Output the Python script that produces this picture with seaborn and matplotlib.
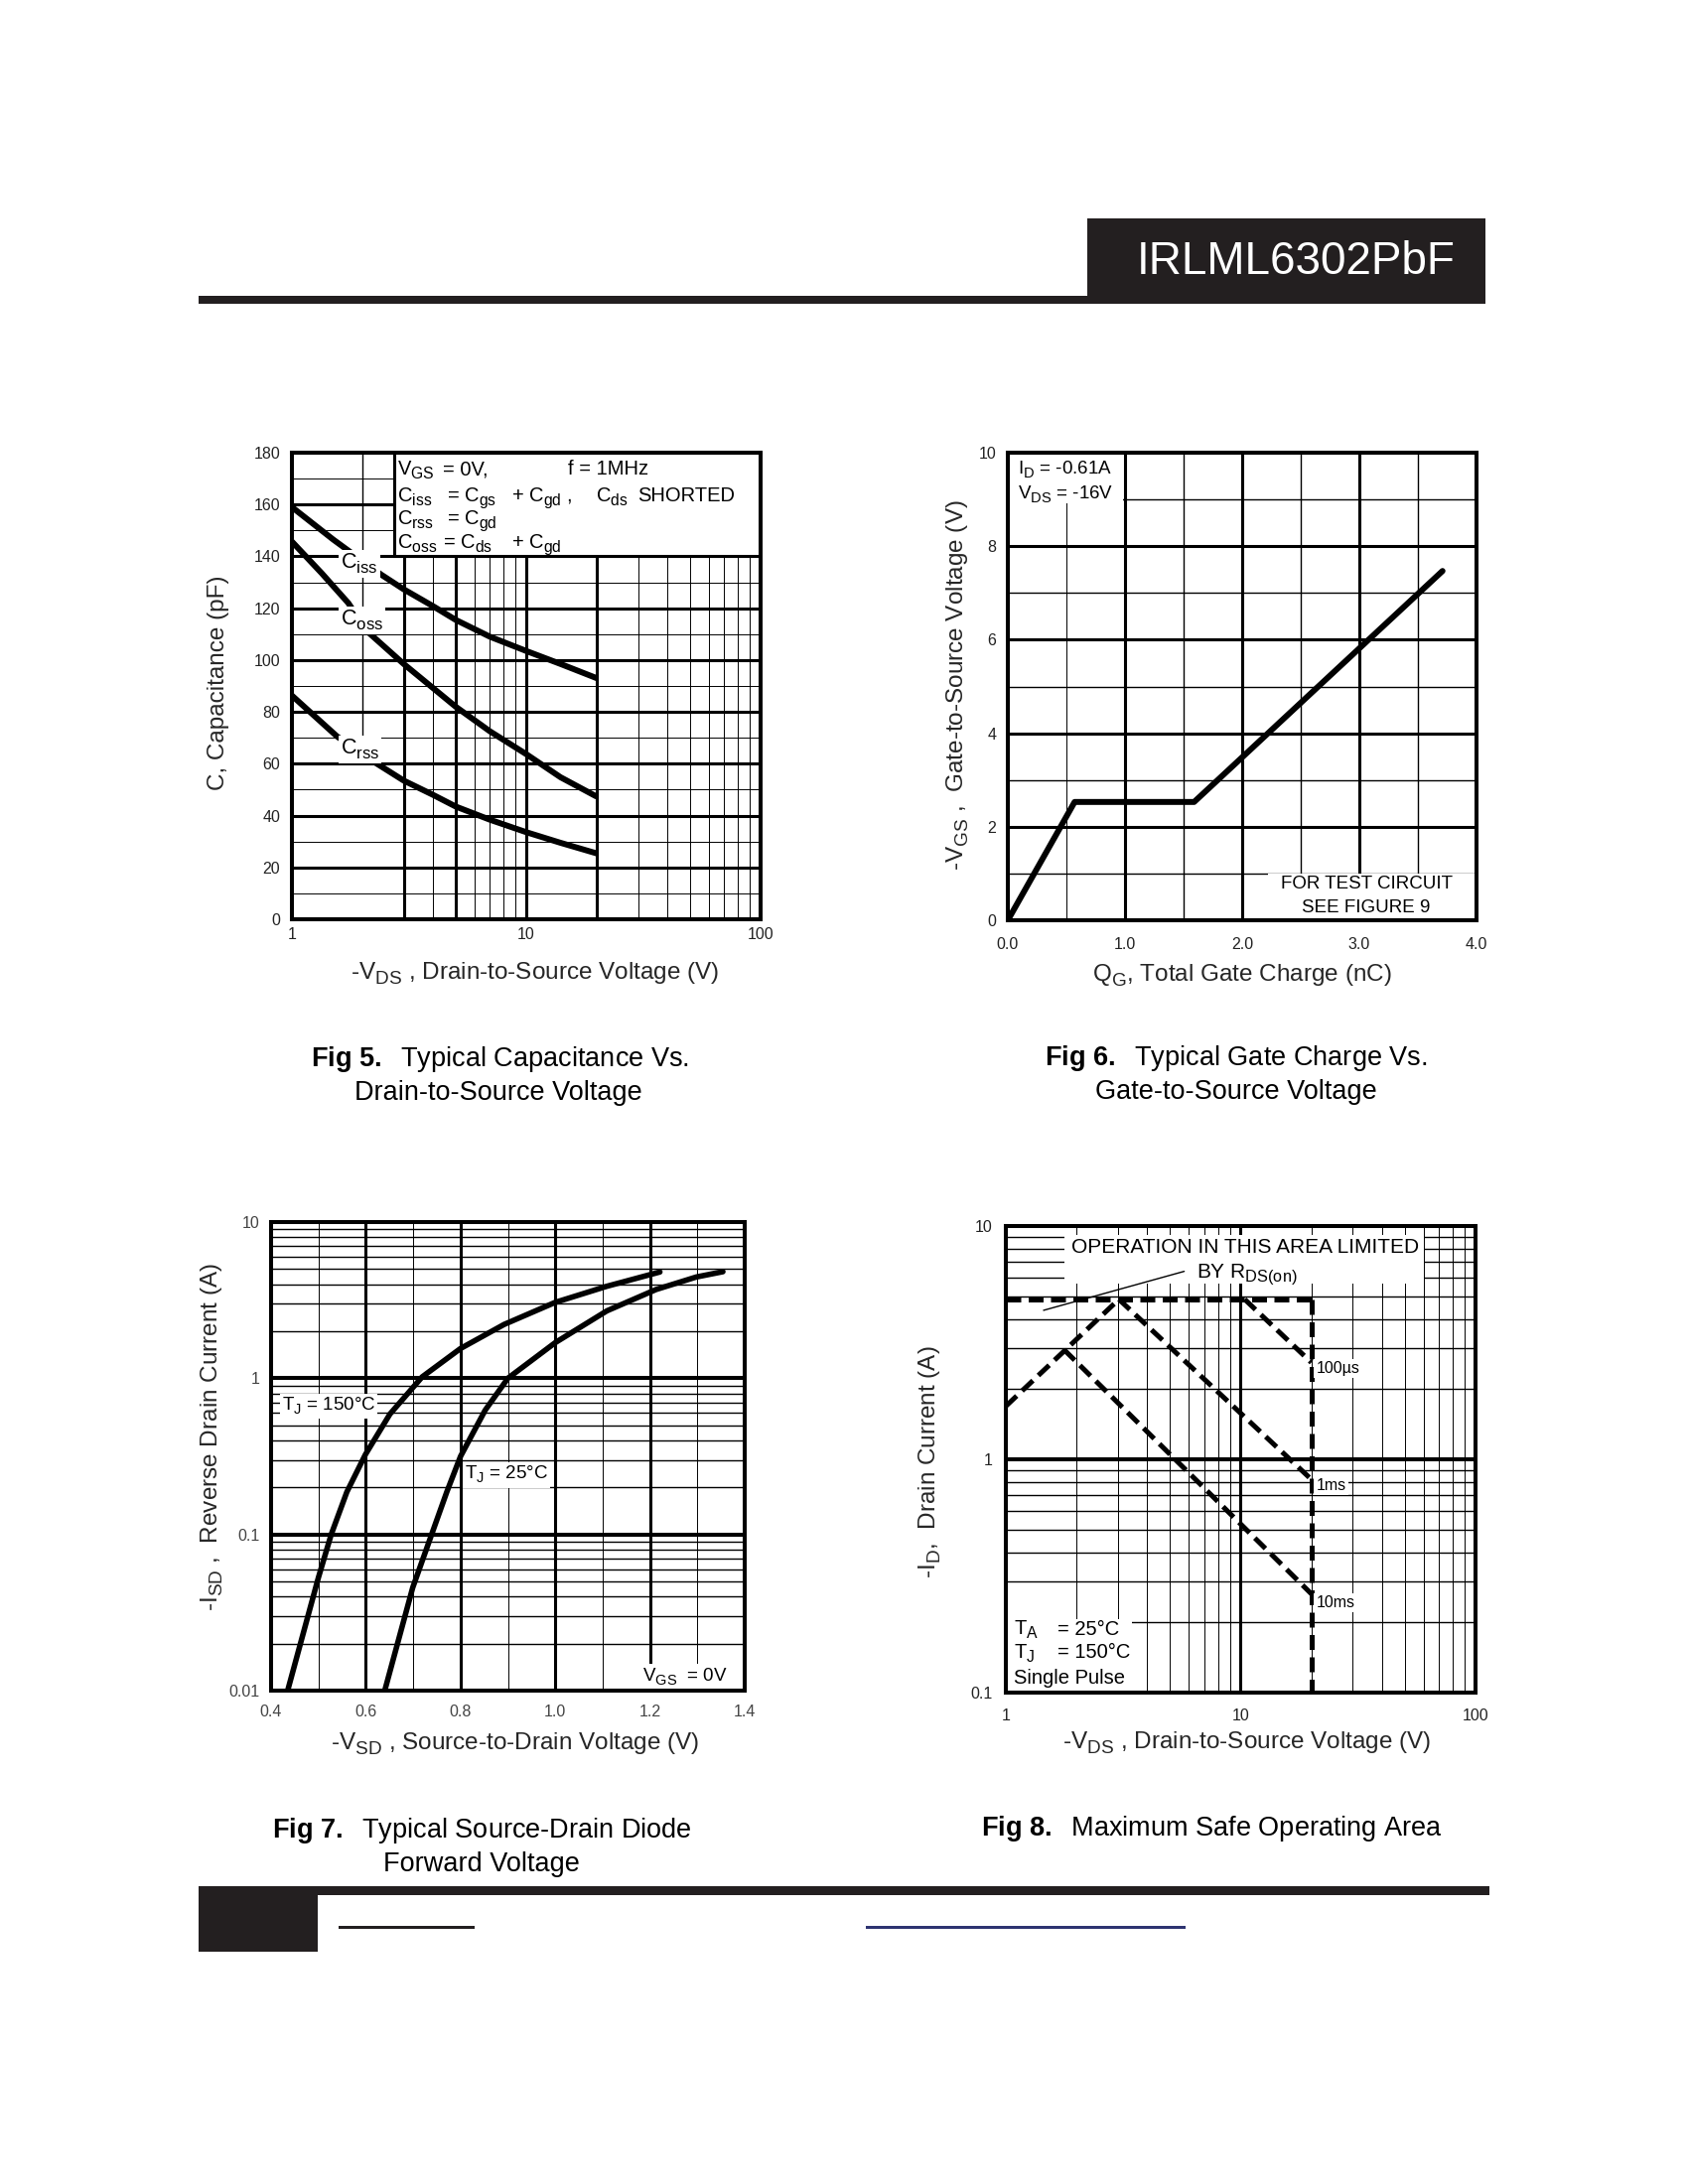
import matplotlib
matplotlib.use("Agg")
import matplotlib.pyplot as plt
from matplotlib.patches import Rectangle
from matplotlib.ticker import NullLocator, NullFormatter
import pandas as pd
import seaborn as sns

# ---------------- data ----------------
# Fig 5 : capacitance vs -VDS
ciss_vds = [1, 1.5, 2.4, 3, 4, 5, 7, 10, 14, 20]
ciss_pf = [159, 146.5, 133, 127.3, 120.8, 115.5, 109, 103.5, 98.5, 93]
coss_vds = [1, 1.34, 1.74, 2.1, 3, 5, 7, 10, 14, 20]
coss_pf = [145.7, 133.5, 122, 111, 98.5, 82, 72.5, 63.7, 54.8, 47.3]
crss_vds = [1, 1.56, 2.26, 3, 4, 5, 7, 10, 14, 20]
crss_pf = [86.3, 70.5, 60.5, 53.5, 48.0, 43.5, 38.4, 33.6, 29.5, 25.4]
fig5_xticks = [1, 10, 100]
fig5_yticks = [0, 20, 40, 60, 80, 100, 120, 140, 160, 180]

# Fig 6 : gate charge
gate_qg = [0.0, 0.57, 1.59, 3.71]
gate_vgs = [0.0, 2.53, 2.53, 7.47]
fig6_xticks = [0.0, 1.0, 2.0, 3.0, 4.0]
fig6_yticks = [0, 2, 4, 6, 8, 10]

# Fig 7 : source-drain diode forward voltage
vsd_150 = [0.435, 0.500, 0.527, 0.560, 0.599, 0.651, 0.719, 0.800, 0.892, 1.000, 1.109, 1.221]
isd_150 = [0.010, 0.053, 0.100, 0.187, 0.324, 0.590, 1.02, 1.55, 2.21, 3.06, 3.88, 4.79]
vsd_25 = [0.640, 0.699, 0.739, 0.771, 0.800, 0.852, 0.900, 1.000, 1.109, 1.213, 1.298, 1.354]
isd_25 = [0.010, 0.0456, 0.100, 0.187, 0.316, 0.624, 1.00, 1.69, 2.70, 3.70, 4.45, 4.81]
fig7_xticks = [0.4, 0.6, 0.8, 1.0, 1.2, 1.4]
fig7_yticks = [0.01, 0.1, 1, 10]

# Fig 8 : safe operating area
soa_rds_vds = [1.0, 3.03]
soa_rds_id = [1.69, 4.85]
soa_top_vds = [1.0, 20.0]
soa_top_id = [4.85, 4.85]
soa_100us_vds = [10.4, 20.0]
soa_100us_id = [4.85, 2.6]
soa_1ms_vds = [3.03, 20.0]
soa_1ms_id = [4.85, 0.82]
soa_10ms_vds = [1.77, 20.0]
soa_10ms_id = [2.95, 0.265]
soa_vmax_vds = [20.0, 20.0]
soa_vmax_id = [4.85, 0.1]
fig8_xticks = [1, 10, 100]
fig8_yticks = [0.1, 1, 10]

# ---------------- style ----------------
sns.set_theme(style="white")
plt.rcParams["font.family"] = ["Liberation Sans", "DejaVu Sans"]
plt.rcParams["mathtext.fontset"] = "custom"
plt.rcParams["mathtext.rm"] = "Liberation Sans"
plt.rcParams["mathtext.it"] = "Liberation Sans:italic"
plt.rcParams["mathtext.bf"] = "Liberation Sans:bold"
plt.rcParams["mathtext.default"] = "regular"
plt.rcParams["text.color"] = "black"

# larger, lower subscripts as in the datasheet typography
try:
    import matplotlib._mathtext as _mt
    _mt.SHRINK_FACTOR = 0.78
    _mt.FontConstantsBase.subdrop = 0.42
    _mt.FontConstantsBase.sub1 = 0.42
except Exception:
    pass

W, H = 1700, 2200
fig = plt.figure(figsize=(17, 22), dpi=100)
fig.patch.set_facecolor("white")

INK = "#231f20"
CURVE_LW = 4.3
SPINE_LW = 2.9
THICK = 2.2
MED = 1.0
THIN = 0.7
AXLAB = 17.5
TICK = 11.5


def px_axes(l, t, r, b):
    return fig.add_axes([l / W, 1 - b / H, (r - l) / W, (b - t) / H])


def frect(x0, y0, x1, y1, color=INK):
    fig.add_artist(Rectangle((x0 / W, 1 - y1 / H), (x1 - x0) / W, (y1 - y0) / H,
                             transform=fig.transFigure, facecolor=color,
                             edgecolor="none"))


def style_axes(ax, xpad, ypad, tick_color="#222222"):
    ax.set_facecolor("white")
    for s in ax.spines.values():
        s.set_visible(True)
        s.set_linewidth(SPINE_LW)
        s.set_color("black")
        s.set_zorder(6)
    ax.tick_params(axis="both", which="both", length=0, labelsize=TICK,
                   colors=tick_color)
    ax.tick_params(axis="x", pad=xpad)
    ax.tick_params(axis="y", pad=ypad)
    ax.xaxis.set_minor_locator(NullLocator())
    ax.yaxis.set_minor_locator(NullLocator())
    ax.xaxis.set_minor_formatter(NullFormatter())
    ax.yaxis.set_minor_formatter(NullFormatter())
    ax.grid(False)


def vlines(ax, xs, lw, ymin=0, ymax=1):
    for x in xs:
        ax.axvline(x, ymin=ymin, ymax=ymax, color="black", lw=lw, zorder=1,
                   solid_capstyle="butt")


def hlines(ax, ys, lw, xmin=0, xmax=1):
    for y in ys:
        ax.axhline(y, xmin=xmin, xmax=xmax, color="black", lw=lw, zorder=1,
                   solid_capstyle="butt")


def set_labels(ax, xlabel, ylabel, xcoord, ycoord):
    ax.set_xlabel(xlabel, fontsize=AXLAB)
    ax.set_ylabel(ylabel, fontsize=AXLAB)
    ax.xaxis.set_label_coords(*xcoord)
    ax.yaxis.set_label_coords(*ycoord)
    ax.xaxis.label.set_va("baseline")
    ax.yaxis.label.set_va("baseline")


WHITE_BOX = dict(facecolor="white", edgecolor="none", pad=1.5)

# ================= Fig 5 =================
ax5 = px_axes(294, 456, 766, 926)
df5 = pd.concat([
    pd.DataFrame({"vds": ciss_vds, "cap": ciss_pf, "curve": "Ciss"}),
    pd.DataFrame({"vds": coss_vds, "cap": coss_pf, "curve": "Coss"}),
    pd.DataFrame({"vds": crss_vds, "cap": crss_pf, "curve": "Crss"}),
], ignore_index=True)
sns.lineplot(data=df5, x="vds", y="cap", units="curve", estimator=None,
             sort=False, color="black", lw=CURVE_LW, ax=ax5, legend=False,
             zorder=3, solid_capstyle="butt", solid_joinstyle="round")
ax5.set_xscale("log")
ax5.set_xlim(1, 100)
ax5.set_ylim(0, 180)
style_axes(ax5, xpad=6, ypad=8.5)
ax5.set_xticks(fig5_xticks, [str(v) for v in fig5_xticks])
ax5.set_yticks(fig5_yticks, [str(v) for v in fig5_yticks])
ax5.xaxis.set_minor_locator(NullLocator())
hlines(ax5, [20, 40, 60, 80, 100, 120, 140, 160], THICK)
hlines(ax5, [10, 30, 50, 70, 90, 110, 130, 150, 170], THIN)
vlines(ax5, [3, 5, 10, 20], THICK)
vlines(ax5, [4, 6, 7, 8, 9, 30, 40, 50, 60, 70, 80, 90], THIN)
vlines(ax5, [2], MED, ymin=66 / 180)
ax5.add_patch(Rectangle((2.73, 140), 100 - 2.73, 40, facecolor="white",
                        edgecolor="black", lw=THICK, zorder=2))
leg_fs = 14.5
legend_pieces = [
    (0.2246, 0.953, r"$V_{GS}$"), (0.322, 0.953, "= 0V,"), (0.589, 0.953, "f = 1MHz"),
    (0.2246, 0.896, r"$C_{iss}$"), (0.3305, 0.896, r"= $C_{gs}$"),
    (0.468, 0.896, r"+ $C_{gd}$ ,"), (0.648, 0.896, r"$C_{ds}$"),
    (0.737, 0.896, "SHORTED"),
    (0.2246, 0.847, r"$C_{rss}$"), (0.3305, 0.847, r"= $C_{gd}$"),
    (0.2246, 0.796, r"$C_{oss}$"), (0.322, 0.796, r"= $C_{ds}$"),
    (0.468, 0.796, r"+ $C_{gd}$"),
]
for x, y, s in legend_pieces:
    ax5.text(x, y, s, transform=ax5.transAxes, fontsize=leg_fs,
             va="baseline", zorder=4)
for lab, y in [(r"C$_{iss}$", 135.2), (r"C$_{oss}$", 113.4), (r"C$_{rss}$", 63.6)]:
    ax5.text(1.61, y, lab, fontsize=15.5, va="baseline", zorder=4, bbox=WHITE_BOX)
set_labels(ax5, r"-$V_{DS}$ , Drain-to-Source Voltage (V)",
           "C, Capacitance (pF)", (0.519, -0.1298), (-0.144, 0.507))

# ================= Fig 6 =================
ax6 = px_axes(1015, 456, 1487, 927)
df6 = pd.DataFrame({"qg": gate_qg, "vgs": gate_vgs})
sns.lineplot(data=df6, x="qg", y="vgs", estimator=None, sort=False,
             color="black", lw=CURVE_LW, ax=ax6, legend=False, zorder=3)
ax6.set_xlim(0, 4)
ax6.set_ylim(0, 10)
style_axes(ax6, xpad=12, ypad=8.5)
ax6.set_xticks(fig6_xticks, [f"{v:.1f}" for v in fig6_xticks])
ax6.set_yticks(fig6_yticks, [str(v) for v in fig6_yticks])
hlines(ax6, [2, 4, 6, 8], THICK)
hlines(ax6, [1, 3, 5, 7, 9], MED)
vlines(ax6, [1, 2, 3], THICK)
vlines(ax6, [1.5, 2.5, 3.5], MED)
vlines(ax6, [0.5], THIN)
ax6.add_patch(Rectangle((0, 8.92), 0.985, 1.08, facecolor="white",
                        edgecolor="none", zorder=2))
ax6.add_patch(Rectangle((2.22, 0), 1.78, 1.0, facecolor="white",
                        edgecolor="none", zorder=2))
ax6.text(0.085, 9.53, r"$I_D$ = -0.61A", fontsize=13.5, va="baseline", zorder=4)
ax6.text(0.085, 9.0, r"$V_{DS}$ = -16V", fontsize=13.5, va="baseline", zorder=4)
ax6.text(3.06, 0.68, "FOR TEST CIRCUIT", fontsize=13.5, ha="center",
         va="baseline", zorder=4)
ax6.text(3.06, 0.18, "SEE FIGURE 9", fontsize=13.5, ha="center",
         va="baseline", zorder=4)
set_labels(ax6, r"$Q_G$, Total Gate Charge (nC)",
           r"-$V_{GS}$ ,  Gate-to-Source Voltage (V)", (0.50, -0.1316),
           (-0.0932, 0.503))

# ================= Fig 7 =================
ax7 = px_axes(273, 1231, 750, 1703)
df7 = pd.concat([
    pd.DataFrame({"vsd": vsd_150, "isd": isd_150, "tj": "150"}),
    pd.DataFrame({"vsd": vsd_25, "isd": isd_25, "tj": "25"}),
], ignore_index=True)
sns.lineplot(data=df7, x="vsd", y="isd", units="tj", estimator=None,
             sort=False, color="black", lw=4.0, ax=ax7, legend=False, zorder=3,
             solid_joinstyle="round")
ax7.set_yscale("log")
ax7.set_xlim(0.4, 1.4)
ax7.set_ylim(0.01, 10)
style_axes(ax7, xpad=10, ypad=8, tick_color="#444444")
ax7.set_xticks(fig7_xticks, [f"{v:.1f}" for v in fig7_xticks])
ax7.set_yticks(fig7_yticks, ["0.01", "0.1", "1", "10"])
ax7.yaxis.set_minor_locator(NullLocator())
vlines(ax7, [0.6, 0.8, 1.0, 1.2], THICK)
vlines(ax7, [0.5, 0.7, 0.9, 1.1, 1.3], THIN)
hlines(ax7, [0.1, 1], SPINE_LW)
hlines(ax7, [k * d for d in (0.01, 0.1, 1) for k in range(2, 10)], MED)
ax7.text(0.423, 0.62, r"T$_J$ = 150°C", fontsize=13.5, va="baseline",
         zorder=4, bbox=WHITE_BOX)
ax7.text(0.808, 0.225, r"T$_J$ = 25°C", fontsize=13.5, va="baseline",
         zorder=4, bbox=WHITE_BOX)
ax7.text(1.184, 0.0115, r"$V_{GS}$  = 0V", fontsize=13.5, va="baseline",
         zorder=4, bbox=WHITE_BOX)
set_labels(ax7, r"-$V_{SD}$ , Source-to-Drain Voltage (V)",
           r"-$I_{SD}$ ,  Reverse Drain Current (A)", (0.516, -0.127),
           (-0.113, 0.542))

# ================= Fig 8 =================
ax8 = px_axes(1013, 1235, 1486, 1705)
df8 = pd.concat([
    pd.DataFrame({"vds": soa_rds_vds, "id": soa_rds_id, "seg": "rds"}),
    pd.DataFrame({"vds": soa_top_vds, "id": soa_top_id, "seg": "top"}),
    pd.DataFrame({"vds": soa_100us_vds, "id": soa_100us_id, "seg": "100us"}),
    pd.DataFrame({"vds": soa_1ms_vds, "id": soa_1ms_id, "seg": "1ms"}),
    pd.DataFrame({"vds": soa_10ms_vds, "id": soa_10ms_id, "seg": "10ms"}),
    pd.DataFrame({"vds": soa_vmax_vds, "id": soa_vmax_id, "seg": "vmax"}),
], ignore_index=True)
sns.lineplot(data=df8, x="vds", y="id", units="seg", estimator=None,
             sort=False, color="black", lw=3.6, ax=ax8, legend=False,
             zorder=3, linestyle=(0, (3.0, 1.5)))
ax8.set_xscale("log")
ax8.set_yscale("log")
ax8.set_xlim(1, 100)
ax8.set_ylim(0.1, 10)
style_axes(ax8, xpad=11.5, ypad=9.4)
ax8.set_xticks(fig8_xticks, [str(v) for v in fig8_xticks])
ax8.set_yticks(fig8_yticks, ["0.1", "1", "10"])
ax8.xaxis.set_minor_locator(NullLocator())
ax8.yaxis.set_minor_locator(NullLocator())
vlines(ax8, [10], THICK)
vlines(ax8, [k * d for d in (1, 10) for k in range(2, 10)], THIN)
hlines(ax8, [1], SPINE_LW)
hlines(ax8, [k * d for d in (0.1, 1) for k in range(2, 10)], MED)
ax8.add_patch(Rectangle((1.78, 5.66), 60 - 1.78, 9.2 - 5.66, facecolor="white",
                        edgecolor="none", zorder=2))
ax8.add_patch(Rectangle((1, 0.1), 2.45, 0.106, facecolor="white",
                        edgecolor="none", zorder=2))
ax8.text(1.905, 7.68, "OPERATION IN THIS AREA LIMITED", fontsize=15,
         va="baseline", zorder=4, bbox=dict(facecolor="white", edgecolor="none", pad=0.5))
ax8.text(6.51, 6.01, r"BY R$_{DS(on)}$", fontsize=15, va="baseline", zorder=4)
ax8.annotate("", xy=(1.41, 4.32), xytext=(5.9, 6.44),
             arrowprops=dict(arrowstyle="-", lw=1.0, color="black"), zorder=4)
for lab, y in [("100µs", 2.34), ("1ms", 0.738), ("10ms", 0.232)]:
    ax8.text(20.95, y, lab, fontsize=11.5, va="baseline", zorder=4, bbox=WHITE_BOX)
ax8.text(1.08, 0.177, r"T$_A$", fontsize=14.5, va="baseline", zorder=4)
ax8.text(1.66, 0.177, "= 25°C", fontsize=14.5, va="baseline", zorder=4)
ax8.text(1.08, 0.141, r"T$_J$", fontsize=14.5, va="baseline", zorder=4)
ax8.text(1.66, 0.141, "= 150°C", fontsize=14.5, va="baseline", zorder=4)
ax8.text(1.08, 0.109, "Single Pulse", fontsize=14.5, va="baseline", zorder=4)
set_labels(ax8, r"-$V_{DS}$ , Drain-to-Source Voltage (V)",
           r"-$I_D$,  Drain Current (A)", (0.513, -0.121), (-0.150, 0.495))

# ================= page decorations =================
frect(1095, 220, 1496, 304)
frect(200, 298, 1496, 306)
fig.text(1305 / W, 1 - 276 / H, "IRLML6302PbF", color="white", fontsize=33,
         ha="center", va="baseline")
frect(200, 1900, 1500, 1909)
frect(200, 1900, 320, 1966)
frect(341, 1940, 478, 1943)
frect(872, 1940, 1194, 1943, "#2e3471")

CAP = 19.5
captions = [
    (503, 1074, r"$\mathbf{Fig\ 5.}$  Typical Capacitance Vs."),
    (502, 1108, "Drain-to-Source Voltage"),
    (1245, 1073, r"$\mathbf{Fig\ 6.}$  Typical Gate Charge Vs."),
    (1245, 1107, "Gate-to-Source Voltage"),
    (485, 1851, r"$\mathbf{Fig\ 7.}$  Typical Source-Drain Diode"),
    (485, 1885, "Forward Voltage"),
    (1220, 1849, r"$\mathbf{Fig\ 8.}$  Maximum Safe Operating Area"),
]
for x, y, s in captions:
    fig.text(x / W, 1 - y / H, s, fontsize=CAP, ha="center", va="baseline")

fig.savefig("out.png", dpi=100, facecolor="white")
